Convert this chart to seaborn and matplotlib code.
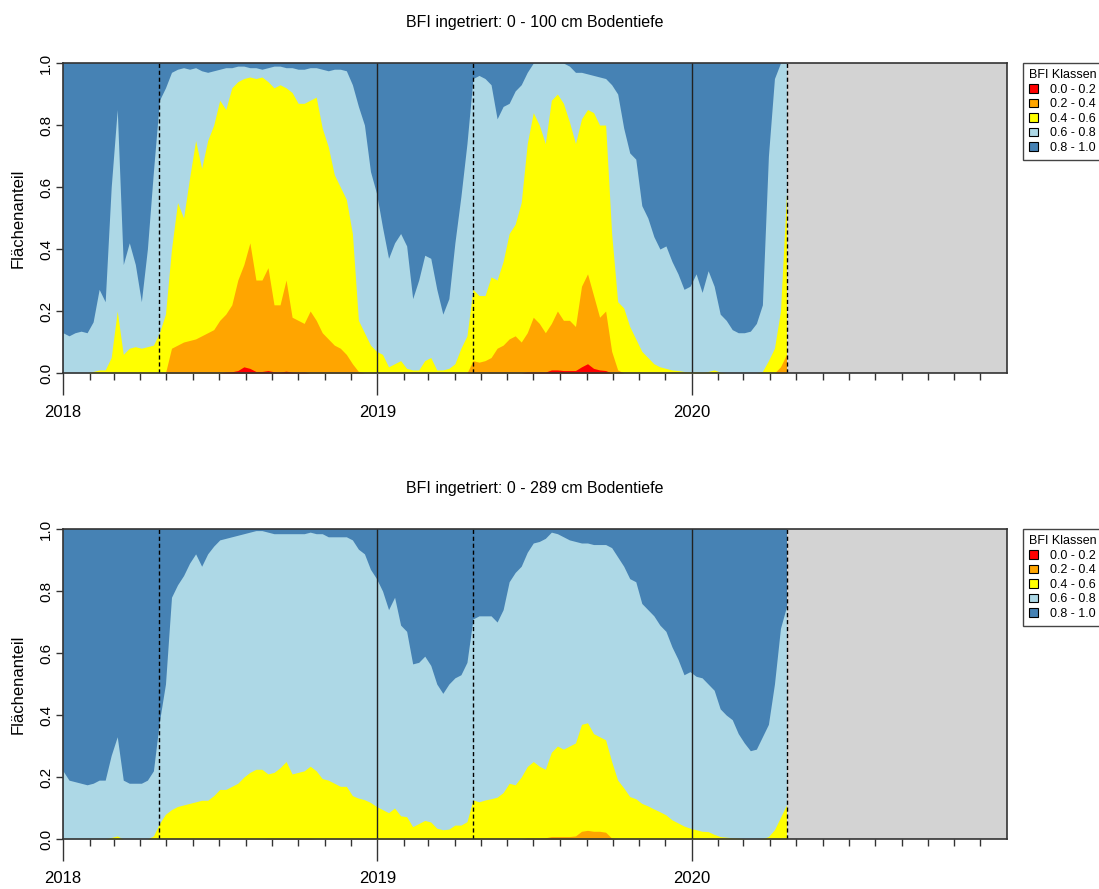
import pandas as pd
import matplotlib.pyplot as plt
import matplotlib.dates as mdates
from matplotlib.patches import Patch
import seaborn as sns

sns.set_style("ticks")
plt.rcParams["font.family"] = ["Liberation Sans", "DejaVu Sans"]
plt.rcParams["text.color"] = "black"
plt.rcParams["axes.labelcolor"] = "black"
plt.rcParams["xtick.labelcolor"] = "black"
plt.rcParams["ytick.labelcolor"] = "black"

# weekly readings of the area shares, 2018-01-01 .. 2020-04-20
dates = pd.date_range("2018-01-01", periods=121, freq="7D")
data_end = pd.Timestamp("2020-04-21")

class_labels = ["0.0 - 0.2", "0.2 - 0.4", "0.4 - 0.6", "0.6 - 0.8", "0.8 - 1.0"]
class_colors = ["red", "orange", "yellow", "lightblue", "steelblue"]

# upper edge of each class band (cumulative share), 0 - 100 cm
d100_red = [
    0, 0, 0, 0, 0, 0, 0, 0, 0, 0,
    0, 0, 0, 0, 0, 0, 0, 0, 0, 0,
    0, 0, 0, 0, 0, 0, 0, 0.003, 0.004, 0.008,
    0.02, 0.015, 0.005, 0.005, 0.008, 0.004, 0.003, 0.006, 0.003, 0.002,
    0.003, 0, 0, 0, 0, 0, 0, 0, 0, 0,
    0, 0, 0, 0, 0, 0, 0, 0, 0, 0,
    0, 0, 0, 0, 0, 0, 0, 0, 0, 0,
    0, 0, 0, 0, 0, 0, 0, 0.003, 0.003, 0.003,
    0.003, 0.01, 0.01, 0.008, 0.008, 0.008, 0.02, 0.03, 0.015, 0.01,
    0.008, 0, 0, 0, 0, 0, 0, 0, 0, 0,
    0, 0, 0, 0, 0, 0, 0, 0, 0, 0,
    0, 0, 0, 0, 0, 0, 0, 0, 0, 0,
    0,
]
d100_orange = [
    0, 0, 0, 0, 0, 0, 0, 0, 0, 0,
    0, 0, 0, 0, 0, 0, 0, 0, 0.08, 0.09,
    0.10, 0.105, 0.11, 0.12, 0.13, 0.14, 0.17, 0.19, 0.22, 0.30,
    0.35, 0.42, 0.30, 0.30, 0.34, 0.22, 0.22, 0.30, 0.18, 0.17,
    0.16, 0.20, 0.17, 0.13, 0.11, 0.09, 0.08, 0.06, 0.03, 0.005,
    0, 0, 0, 0, 0, 0, 0, 0, 0, 0,
    0, 0, 0, 0, 0, 0, 0, 0, 0.04, 0.035,
    0.04, 0.05, 0.08, 0.09, 0.11, 0.12, 0.10, 0.13, 0.18, 0.16,
    0.13, 0.16, 0.20, 0.17, 0.17, 0.15, 0.28, 0.32, 0.25, 0.18,
    0.20, 0.07, 0.01, 0, 0, 0, 0, 0, 0, 0,
    0, 0, 0, 0, 0, 0, 0, 0, 0, 0,
    0, 0, 0, 0, 0, 0, 0, 0, 0, 0.02,
    0.06,
]
d100_yellow = [
    0, 0, 0, 0, 0, 0.005, 0.01, 0.01, 0.05, 0.20,
    0.06, 0.08, 0.085, 0.08, 0.085, 0.09, 0.13, 0.19, 0.40, 0.55,
    0.50, 0.63, 0.75, 0.66, 0.75, 0.80, 0.88, 0.85, 0.92, 0.94,
    0.95, 0.955, 0.95, 0.955, 0.94, 0.92, 0.93, 0.92, 0.905, 0.87,
    0.87, 0.88, 0.89, 0.79, 0.73, 0.64, 0.60, 0.56, 0.45, 0.17,
    0.13, 0.09, 0.07, 0.06, 0.02, 0.03, 0.04, 0.015, 0.01, 0.01,
    0.04, 0.05, 0.01, 0.01, 0.015, 0.03, 0.08, 0.12, 0.27, 0.25,
    0.25, 0.31, 0.30, 0.36, 0.45, 0.48, 0.55, 0.74, 0.84, 0.80,
    0.74, 0.88, 0.90, 0.87, 0.81, 0.74, 0.82, 0.85, 0.84, 0.80,
    0.80, 0.45, 0.23, 0.21, 0.15, 0.11, 0.07, 0.05, 0.03, 0.02,
    0.015, 0.01, 0.008, 0.005, 0.004, 0.004, 0.003, 0.005, 0.01, 0.003,
    0, 0, 0, 0, 0, 0, 0.005, 0.04, 0.08, 0.20,
    0.58,
]
d100_lblue = [
    0.13, 0.12, 0.13, 0.135, 0.13, 0.165, 0.27, 0.23, 0.60, 0.85,
    0.35, 0.42, 0.35, 0.23, 0.40, 0.65, 0.88, 0.92, 0.97, 0.98,
    0.985, 0.98, 0.985, 0.975, 0.97, 0.975, 0.98, 0.985, 0.985, 0.99,
    0.99, 0.985, 0.985, 0.98, 0.985, 0.99, 0.99, 0.985, 0.985, 0.98,
    0.98, 0.985, 0.985, 0.98, 0.975, 0.98, 0.98, 0.975, 0.93, 0.86,
    0.80, 0.65, 0.58, 0.47, 0.37, 0.42, 0.45, 0.41, 0.24, 0.30,
    0.38, 0.37, 0.27, 0.19, 0.24, 0.42, 0.57, 0.74, 0.95, 0.96,
    0.95, 0.93, 0.82, 0.86, 0.87, 0.91, 0.93, 0.97, 1.0, 1.0,
    1.0, 1.0, 1.0, 1.0, 0.99, 0.97, 0.97, 0.965, 0.96, 0.955,
    0.95, 0.93, 0.90, 0.79, 0.71, 0.69, 0.54, 0.50, 0.44, 0.40,
    0.41, 0.36, 0.32, 0.27, 0.28, 0.32, 0.26, 0.33, 0.28, 0.19,
    0.17, 0.14, 0.13, 0.13, 0.135, 0.16, 0.22, 0.70, 0.95, 1.0,
    1.0,
]

# upper edge of each class band (cumulative share), 0 - 289 cm (no red class)
d289_orange = [
    0, 0, 0, 0, 0, 0, 0, 0, 0, 0,
    0, 0, 0, 0, 0, 0, 0, 0, 0, 0,
    0, 0, 0, 0, 0, 0, 0, 0, 0, 0,
    0, 0, 0, 0, 0.002, 0.002, 0.002, 0.002, 0.002, 0.002,
    0.002, 0.002, 0, 0, 0, 0, 0, 0, 0, 0,
    0, 0, 0, 0, 0, 0, 0, 0, 0, 0,
    0, 0, 0, 0, 0, 0, 0, 0, 0, 0,
    0, 0, 0, 0, 0, 0, 0, 0.003, 0.003, 0.003,
    0.004, 0.008, 0.008, 0.008, 0.008, 0.01, 0.025, 0.028, 0.025, 0.025,
    0.022, 0.003, 0, 0, 0, 0, 0, 0, 0, 0,
    0, 0, 0, 0, 0, 0, 0, 0, 0, 0,
    0, 0, 0, 0, 0, 0, 0, 0, 0, 0,
    0,
]
d289_yellow = [
    0, 0, 0, 0, 0, 0, 0, 0, 0.005, 0.01,
    0, 0, 0, 0, 0, 0.01, 0.05, 0.08, 0.095, 0.105,
    0.11, 0.115, 0.12, 0.125, 0.125, 0.14, 0.16, 0.16, 0.17, 0.18,
    0.20, 0.215, 0.225, 0.225, 0.21, 0.215, 0.23, 0.25, 0.21, 0.215,
    0.22, 0.235, 0.22, 0.195, 0.19, 0.18, 0.17, 0.17, 0.14, 0.132,
    0.127, 0.118, 0.105, 0.095, 0.085, 0.10, 0.075, 0.072, 0.04, 0.05,
    0.06, 0.055, 0.035, 0.03, 0.032, 0.045, 0.045, 0.056, 0.126, 0.12,
    0.126, 0.13, 0.135, 0.15, 0.18, 0.175, 0.20, 0.234, 0.25, 0.235,
    0.225, 0.28, 0.30, 0.29, 0.30, 0.31, 0.37, 0.375, 0.34, 0.33,
    0.32, 0.25, 0.19, 0.165, 0.137, 0.13, 0.115, 0.107, 0.097, 0.088,
    0.078, 0.062, 0.052, 0.042, 0.035, 0.03, 0.025, 0.024, 0.015, 0.008,
    0.006, 0.004, 0.003, 0.001, 0, 0, 0.001, 0.008, 0.03, 0.07,
    0.11,
]
d289_lblue = [
    0.22, 0.19, 0.185, 0.18, 0.175, 0.18, 0.19, 0.19, 0.27, 0.33,
    0.19, 0.18, 0.18, 0.18, 0.19, 0.22, 0.38, 0.50, 0.78, 0.82,
    0.85, 0.89, 0.92, 0.88, 0.92, 0.945, 0.965, 0.97, 0.975, 0.98,
    0.985, 0.99, 0.995, 0.995, 0.99, 0.985, 0.985, 0.985, 0.985, 0.985,
    0.985, 0.99, 0.985, 0.985, 0.975, 0.975, 0.975, 0.975, 0.965, 0.935,
    0.92, 0.87, 0.84, 0.80, 0.74, 0.78, 0.69, 0.67, 0.565, 0.57,
    0.59, 0.56, 0.50, 0.47, 0.50, 0.52, 0.53, 0.57, 0.71, 0.72,
    0.72, 0.72, 0.70, 0.74, 0.83, 0.86, 0.88, 0.925, 0.955, 0.96,
    0.97, 0.99, 0.985, 0.975, 0.965, 0.96, 0.955, 0.955, 0.95, 0.95,
    0.95, 0.94, 0.91, 0.88, 0.84, 0.83, 0.76, 0.74, 0.72, 0.69,
    0.67, 0.62, 0.58, 0.53, 0.54, 0.525, 0.52, 0.50, 0.48, 0.42,
    0.40, 0.385, 0.34, 0.31, 0.285, 0.29, 0.33, 0.37, 0.50, 0.68,
    0.75,
]

for arr in [d100_red, d100_orange, d100_yellow, d100_lblue, d289_orange, d289_yellow, d289_lblue]:
    assert len(arr) == len(dates), len(arr)

year_lines = ["2019-01-01", "2020-01-01"]
season_lines = ["2018-04-22", "2019-04-22", "2020-04-21"]

panels = [
    ("BFI ingetriert: 0 - 100 cm Bodentiefe",
     {"red": d100_red, "orange": d100_orange, "yellow": d100_yellow, "lightblue": d100_lblue}),
    ("BFI ingetriert: 0 - 289 cm Bodentiefe",
     {"orange": d289_orange, "yellow": d289_yellow, "lightblue": d289_lblue}),
]

fig = plt.figure(figsize=(10.99, 8.89), dpi=100)
ax_list = [fig.add_axes([0.0573, 0.5804, 0.859, 0.3487]),
           fig.add_axes([0.0573, 0.0562, 0.859, 0.3487])]

x_start = pd.Timestamp("2018-01-01")
x_stop = pd.Timestamp("2021-01-01")

for ax, (title, edges) in zip(ax_list, panels):
    # draw from the top class down, each band from 0 to its upper edge
    ax.fill_between(dates, 0, 1, color="steelblue", lw=0)
    for cls in ["lightblue", "yellow", "orange", "red"]:
        if cls in edges:
            ax.fill_between(dates, 0, edges[cls], color=cls, lw=0)

    ax.axvspan(data_end, x_stop, color="lightgrey", lw=0, zorder=2)
    for d in year_lines:
        ax.axvline(pd.Timestamp(d), color="#222222", lw=1, zorder=3)
    for d in season_lines:
        ax.axvline(pd.Timestamp(d), color="black", lw=1, ls=(0, (3, 2)), zorder=3)

    ax.set_xlim(x_start, x_stop)
    ax.set_ylim(0, 1)
    ax.set_xticks([pd.Timestamp(f"{y}-01-01") for y in (2018, 2019, 2020)])
    ax.xaxis.set_major_formatter(mdates.DateFormatter("%Y"))
    ax.xaxis.set_minor_locator(mdates.MonthLocator(bymonth=range(2, 13)))
    ax.tick_params(axis="x", which="major", length=16, width=1, pad=7,
                   labelsize=12, color="#333333")
    ax.tick_params(axis="x", which="minor", length=5, width=1, color="#333333")
    ax.set_yticks([0, 0.2, 0.4, 0.6, 0.8, 1.0])
    ax.set_yticklabels(["0.0", "0.2", "0.4", "0.6", "0.8", "1.0"],
                       rotation=90, va="center")
    ax.tick_params(axis="y", length=5, width=1, pad=2, labelsize=11, color="#333333")
    for sp in ax.spines.values():
        sp.set_color("#333333")
        sp.set_linewidth(1.2)
        sp.set_zorder(4)

    ax.set_ylabel("Flächenanteil", fontsize=12)
    ax.yaxis.set_label_coords(-0.040, 0.5)
    ax.set_title(title, fontsize=11.5, pad=26)

    handles = [Patch(facecolor=c, edgecolor="black", linewidth=0.8) for c in class_colors]
    leg = ax.legend(handles, class_labels, title="BFI Klassen",
                    loc="upper left", bbox_to_anchor=(1023 / 1099, ax.get_position().y1),
                    bbox_transform=fig.transFigure, borderaxespad=0,
                    fontsize=9, title_fontsize=9, frameon=True, fancybox=False,
                    edgecolor="#444444", framealpha=1, handlelength=0.7,
                    handleheight=0.7, handletextpad=1.0, labelspacing=0.2,
                    borderpad=0.5, alignment="left")
    leg.get_frame().set_linewidth(1.0)

fig.savefig("out.png", dpi=100)
